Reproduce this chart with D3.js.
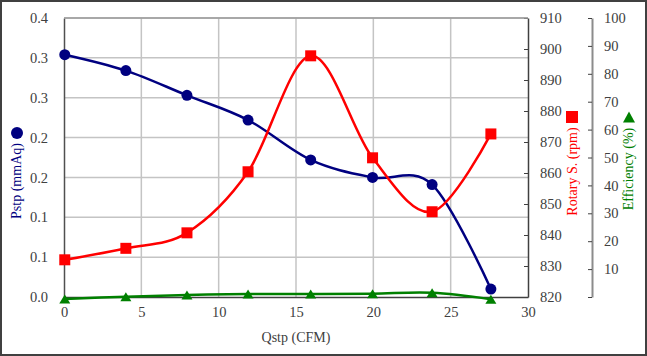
<!DOCTYPE html>
<html>
<head>
<meta charset="utf-8">
<script src="https://cdn.jsdelivr.net/npm/d3@7"></script>
<style>
  html, body { margin: 0; padding: 0; background: #fff; }
  svg text { font-family: "Liberation Serif", "Times New Roman", serif; }
</style>
</head>
<body>
<svg id="chart" width="647" height="356"></svg>
<script>
// ---- data ----
const flow = [0.05, 4.0, 7.95, 11.9, 15.95, 19.95, 23.8, 27.6];          // Qstp (CFM)
const pressure = [0.304, 0.284, 0.253, 0.222, 0.172, 0.150, 0.141, 0.010]; // Pstp (mmAq)
const rotary = [832, 835.7, 840.7, 860.4, 897.8, 864.9, 847.5, 872.6];     // rpm
const efficiency = [-0.7, 0.1, 0.7, 1.1, 1.1, 1.2, 1.5, -0.8];             // %

const xTicks = [0, 5, 10, 15, 20, 25, 30];
const pTicks = [0, 0.05, 0.10, 0.15, 0.20, 0.25, 0.30, 0.35];
const pTickLabels = ["0.0", "0.1", "0.1", "0.2", "0.2", "0.3", "0.3", "0.4"];
const rTicks = [820, 830, 840, 850, 860, 870, 880, 890, 900, 910];
const eTicks = [0, 10, 20, 30, 40, 50, 60, 70, 80, 90, 100];

// ---- layout ----
const svg = d3.select("#chart");
const W = 647, H = 356;
const pLeft = 64, pRight = 528, pTop = 18, pBottom = 297;
const effAxisX = 592;
const serif = '"Liberation Serif", "Times New Roman", serif';

const x = d3.scaleLinear().domain([0, 30]).range([pLeft, pRight]);
const yP = d3.scaleLinear().domain([0, 0.35]).range([pBottom, pTop]);
const yR = d3.scaleLinear().domain([820, 910]).range([pBottom, pTop]);
const yE = d3.scaleLinear().domain([0, 100]).range([pBottom, pTop]);

const axisColor = "#404040";
const gridColor = "#c4c4c4";
const fontSize = "14.5px";

// outer frame
svg.append("rect").attr("x", 1).attr("y", 1).attr("width", W - 2).attr("height", H - 2)
  .attr("fill", "#fff").attr("stroke", "#404040").attr("stroke-width", 2);

// gridlines
const grid = svg.append("g");
grid.selectAll("line.h").data(pTicks.slice(1)).join("line")
  .attr("x1", pLeft).attr("x2", pRight)
  .attr("y1", d => yP(d)).attr("y2", d => yP(d))
  .attr("stroke", gridColor).attr("stroke-width", 1.5);
grid.selectAll("line.v").data(xTicks.slice(1, -1)).join("line")
  .attr("x1", d => x(d)).attr("x2", d => x(d))
  .attr("y1", pTop).attr("y2", pBottom)
  .attr("stroke", gridColor).attr("stroke-width", 1.5);

function styleAxis(g, domainColor, domainWidth) {
  g.attr("font-family", serif).attr("font-size", fontSize);
  g.select(".domain").attr("stroke", domainColor).attr("stroke-width", domainWidth);
  g.selectAll(".tick line").attr("stroke", axisColor).attr("stroke-width", 1);
  g.selectAll(".tick text").attr("fill", axisColor)
    .style("font-family", serif).style("font-size", fontSize);
}

// left axis
const gL = svg.append("g").attr("transform", `translate(${pLeft},0)`)
  .call(d3.axisLeft(yP).tickValues(pTicks).tickFormat((d, i) => pTickLabels[i])
    .tickSize(0).tickPadding(16));
styleAxis(gL, "#505050", 1.5);

// bottom axis
const gB = svg.append("g").attr("transform", `translate(0,${pBottom})`)
  .call(d3.axisBottom(x).tickValues(xTicks).tickFormat(d3.format("d"))
    .tickSize(0).tickPadding(10));
styleAxis(gB, "#404040", 1.5);

// rotary axis (right of plot)
const gR = svg.append("g").attr("transform", `translate(${pRight},0)`)
  .call(d3.axisRight(yR).tickValues(rTicks).tickFormat(d3.format("d"))
    .tickSizeInner(-4).tickSizeOuter(0).tickPadding(12));
styleAxis(gR, "#404040", 1.5);

// efficiency axis
const gE = svg.append("g").attr("transform", `translate(${effAxisX},0)`)
  .call(d3.axisRight(yE).tickValues(eTicks).tickFormat(d => d === 0 ? "" : d)
    .tickSizeInner(-4).tickSizeOuter(0).tickPadding(12));
styleAxis(gE, "#8c8c8c", 2);

// top border of plot
svg.append("line").attr("x1", pLeft).attr("x2", pRight).attr("y1", pTop).attr("y2", pTop)
  .attr("stroke", "#9a9a9a").attr("stroke-width", 1.5);

// ---- series ----
const curve = d3.curveCatmullRom.alpha(0);
const navy = "#000080", red = "#ff0000", green = "#008000";

function triPath(w, h) {
  return `M0,${-h / 2}L${w / 2},${h / 2}L${-w / 2},${h / 2}Z`;
}

// Pstp
const lineP = d3.line().x((d, i) => x(flow[i])).y(d => yP(d)).curve(curve);
svg.append("path").datum(pressure).attr("d", lineP)
  .attr("fill", "none").attr("stroke", navy).attr("stroke-width", 2.5);
svg.selectAll("circle.p").data(pressure).join("circle")
  .attr("cx", (d, i) => x(flow[i])).attr("cy", d => yP(d)).attr("r", 5.5)
  .attr("fill", navy);

// Rotary
const lineR = d3.line().x((d, i) => x(flow[i])).y(d => yR(d)).curve(curve);
svg.append("path").datum(rotary).attr("d", lineR)
  .attr("fill", "none").attr("stroke", red).attr("stroke-width", 2.5);
svg.selectAll("rect.r").data(rotary).join("rect")
  .attr("x", (d, i) => x(flow[i]) - 5.5).attr("y", d => yR(d) - 5.5)
  .attr("width", 11).attr("height", 11).attr("fill", red);

// Efficiency
const lineE = d3.line().x((d, i) => x(flow[i])).y(d => yE(d)).curve(curve);
svg.append("path").datum(efficiency).attr("d", lineE)
  .attr("fill", "none").attr("stroke", green).attr("stroke-width", 2.5);
svg.selectAll("path.e").data(efficiency).join("path")
  .attr("transform", (d, i) => `translate(${x(flow[i])},${yE(d)})`)
  .attr("d", triPath(11, 9)).attr("fill", green);

// ---- axis titles ----
svg.append("text").attr("x", (pLeft + pRight) / 2).attr("y", 342)
  .attr("text-anchor", "middle").attr("fill", axisColor)
  .style("font-family", serif).style("font-size", "14px")
  .text("Qstp (CFM)");

svg.append("text").attr("transform", "translate(21,181) rotate(-90)")
  .attr("text-anchor", "middle").attr("fill", navy)
  .style("font-family", serif).style("font-size", "14px")
  .text("Pstp (mmAq)");
svg.append("circle").attr("cx", 17).attr("cy", 133).attr("r", 6).attr("fill", navy);

svg.append("text").attr("transform", "translate(577,171.5) rotate(-90)")
  .attr("text-anchor", "middle").attr("fill", red)
  .style("font-family", serif).style("font-size", "14px")
  .text("Rotary S. (rpm)");
svg.append("rect").attr("x", 566).attr("y", 111).attr("width", 12).attr("height", 12).attr("fill", red);

svg.append("text").attr("transform", "translate(633,169) rotate(-90)")
  .attr("text-anchor", "middle").attr("fill", green)
  .style("font-family", serif).style("font-size", "14px")
  .text("Efficiency (%)");
svg.append("path").attr("transform", "translate(629,117)").attr("d", triPath(12, 11)).attr("fill", green);
</script>
</body>
</html>
